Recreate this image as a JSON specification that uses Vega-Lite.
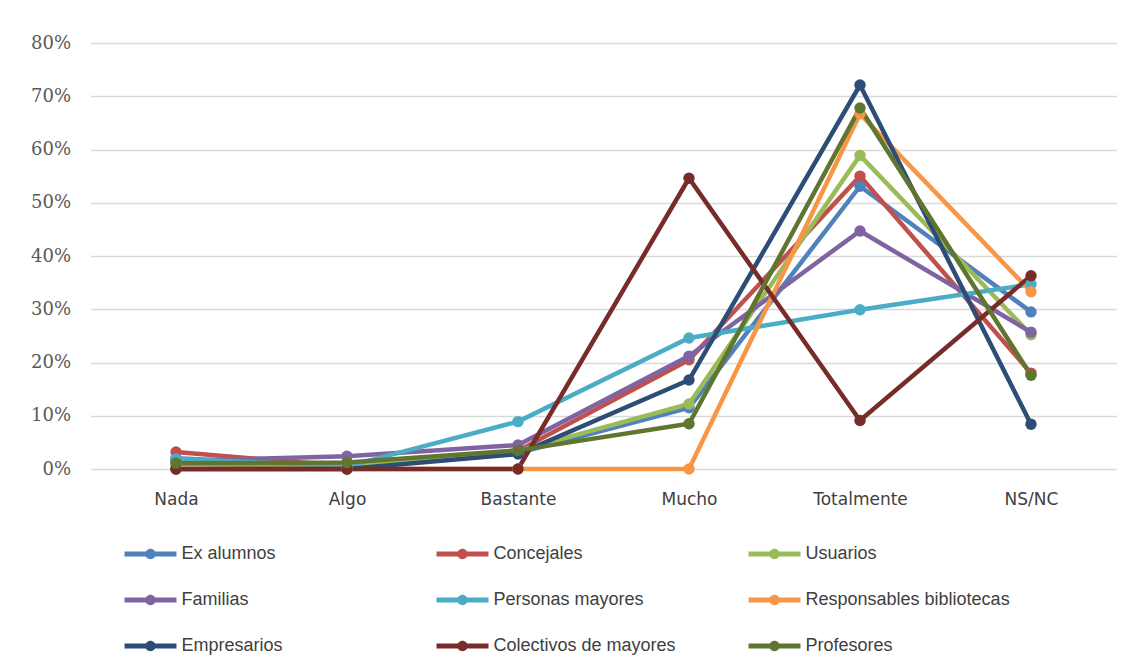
{
  "$schema": "https://vega.github.io/schema/vega-lite/v6.json",
  "autosize": {"type": "none"},
  "width": 1026,
  "height": 426,
  "padding": {"left": 90.5, "top": 43, "right": 17.5, "bottom": 202},
  "background": "white",
  "config": {"view": {"stroke": null}},
  "datasets": {
    "d": [
      {"grupo": "Ex alumnos", "nivel": "Nada", "valor": 0.020},
      {"grupo": "Ex alumnos", "nivel": "Algo", "valor": 0.005},
      {"grupo": "Ex alumnos", "nivel": "Bastante", "valor": 0.030},
      {"grupo": "Ex alumnos", "nivel": "Mucho", "valor": 0.115},
      {"grupo": "Ex alumnos", "nivel": "Totalmente", "valor": 0.531},
      {"grupo": "Ex alumnos", "nivel": "NS/NC", "valor": 0.295},
      {"grupo": "Concejales", "nivel": "Nada", "valor": 0.032},
      {"grupo": "Concejales", "nivel": "Algo", "valor": 0.005},
      {"grupo": "Concejales", "nivel": "Bastante", "valor": 0.034},
      {"grupo": "Concejales", "nivel": "Mucho", "valor": 0.205},
      {"grupo": "Concejales", "nivel": "Totalmente", "valor": 0.550},
      {"grupo": "Concejales", "nivel": "NS/NC", "valor": 0.180},
      {"grupo": "Usuarios", "nivel": "Nada", "valor": 0.010},
      {"grupo": "Usuarios", "nivel": "Algo", "valor": 0.005},
      {"grupo": "Usuarios", "nivel": "Bastante", "valor": 0.034},
      {"grupo": "Usuarios", "nivel": "Mucho", "valor": 0.122},
      {"grupo": "Usuarios", "nivel": "Totalmente", "valor": 0.589},
      {"grupo": "Usuarios", "nivel": "NS/NC", "valor": 0.252},
      {"grupo": "Familias", "nivel": "Nada", "valor": 0.015},
      {"grupo": "Familias", "nivel": "Algo", "valor": 0.024},
      {"grupo": "Familias", "nivel": "Bastante", "valor": 0.045},
      {"grupo": "Familias", "nivel": "Mucho", "valor": 0.212},
      {"grupo": "Familias", "nivel": "Totalmente", "valor": 0.447},
      {"grupo": "Familias", "nivel": "NS/NC", "valor": 0.257},
      {"grupo": "Personas mayores", "nivel": "Nada", "valor": 0.019},
      {"grupo": "Personas mayores", "nivel": "Algo", "valor": 0.005},
      {"grupo": "Personas mayores", "nivel": "Bastante", "valor": 0.089},
      {"grupo": "Personas mayores", "nivel": "Mucho", "valor": 0.246},
      {"grupo": "Personas mayores", "nivel": "Totalmente", "valor": 0.299},
      {"grupo": "Personas mayores", "nivel": "NS/NC", "valor": 0.347},
      {"grupo": "Responsables bibliotecas", "nivel": "Nada", "valor": 0.0},
      {"grupo": "Responsables bibliotecas", "nivel": "Algo", "valor": 0.0},
      {"grupo": "Responsables bibliotecas", "nivel": "Bastante", "valor": 0.0},
      {"grupo": "Responsables bibliotecas", "nivel": "Mucho", "valor": 0.0},
      {"grupo": "Responsables bibliotecas", "nivel": "Totalmente", "valor": 0.667},
      {"grupo": "Responsables bibliotecas", "nivel": "NS/NC", "valor": 0.333},
      {"grupo": "Empresarios", "nivel": "Nada", "valor": 0.0},
      {"grupo": "Empresarios", "nivel": "Algo", "valor": 0.0},
      {"grupo": "Empresarios", "nivel": "Bastante", "valor": 0.028},
      {"grupo": "Empresarios", "nivel": "Mucho", "valor": 0.167},
      {"grupo": "Empresarios", "nivel": "Totalmente", "valor": 0.721},
      {"grupo": "Empresarios", "nivel": "NS/NC", "valor": 0.084},
      {"grupo": "Colectivos de mayores", "nivel": "Nada", "valor": 0.0},
      {"grupo": "Colectivos de mayores", "nivel": "Algo", "valor": 0.0},
      {"grupo": "Colectivos de mayores", "nivel": "Bastante", "valor": 0.0},
      {"grupo": "Colectivos de mayores", "nivel": "Mucho", "valor": 0.546},
      {"grupo": "Colectivos de mayores", "nivel": "Totalmente", "valor": 0.091},
      {"grupo": "Colectivos de mayores", "nivel": "NS/NC", "valor": 0.363},
      {"grupo": "Profesores", "nivel": "Nada", "valor": 0.011},
      {"grupo": "Profesores", "nivel": "Algo", "valor": 0.012},
      {"grupo": "Profesores", "nivel": "Bastante", "valor": 0.035},
      {"grupo": "Profesores", "nivel": "Mucho", "valor": 0.085},
      {"grupo": "Profesores", "nivel": "Totalmente", "valor": 0.678},
      {"grupo": "Profesores", "nivel": "NS/NC", "valor": 0.176}
    ]
  },
  "data": {"name": "d"},
  "encoding": {
    "x": {
      "field": "nivel", "type": "nominal",
      "sort": ["Nada", "Algo", "Bastante", "Mucho", "Totalmente", "NS/NC"],
      "scale": {"type": "point", "padding": 0.5},
      "axis": {"title": null, "domain": false, "ticks": false, "labelAngle": 0, "labelPadding": 22,
               "labelFont": "DejaVu Sans", "labelFontSize": 17, "labelColor": "#404040"}
    },
    "y": {
      "field": "valor", "type": "quantitative",
      "scale": {"domain": [0, 0.8], "nice": false},
      "axis": {"title": null, "format": ".0%", "values": [0,0.1,0.2,0.3,0.4,0.5,0.6,0.7,0.8], "labelOverlap": false,
               "domain": false, "ticks": false, "labelPadding": 20, "gridColor": "#d9d9d9", "gridWidth": 1.5,
               "labelFont": "DejaVu Serif", "labelFontSize": 18, "labelColor": "#595959"}
    },
    "color": {
      "field": "grupo", "type": "nominal",
      "sort": ["Ex alumnos", "Concejales", "Usuarios", "Familias", "Personas mayores", "Responsables bibliotecas", "Empresarios", "Colectivos de mayores", "Profesores"],
      "scale": {
        "domain": ["Ex alumnos", "Concejales", "Usuarios", "Familias", "Personas mayores", "Responsables bibliotecas", "Empresarios", "Colectivos de mayores", "Profesores"],
        "range": ["#4F81BD", "#C0504D", "#9BBB59", "#8064A2", "#4BACC6", "#F79646", "#2C4D75", "#772C2A", "#5F7530"]
      },
      "legend": {
        "title": null, "orient": "none", "direction": "horizontal", "legendX": 34, "legendY": 485, "columns": 3, "gridAlign": "all",
        "columnPadding": 50, "rowPadding": 11, "labelFont": "Liberation Sans", "labelFontSize": 18,
        "labelColor": "#404040", "labelOffset": 5, "labelLimit": 400,
        "symbolType": "M-1,-0.1L1,-0.1L1,0.1L-1,0.1Z M0.2,0A0.2,0.2 0 1,1 -0.2,0A0.2,0.2 0 1,1 0.2,0Z",
        "symbolSize": 2700, "symbolStrokeWidth": 0
      }
    }
  },
  "layer": [
    {"mark": {"type": "line", "strokeWidth": 4.5}},
    {"mark": {"type": "point", "filled": true, "size": 130, "opacity": 1}}
  ]
}
